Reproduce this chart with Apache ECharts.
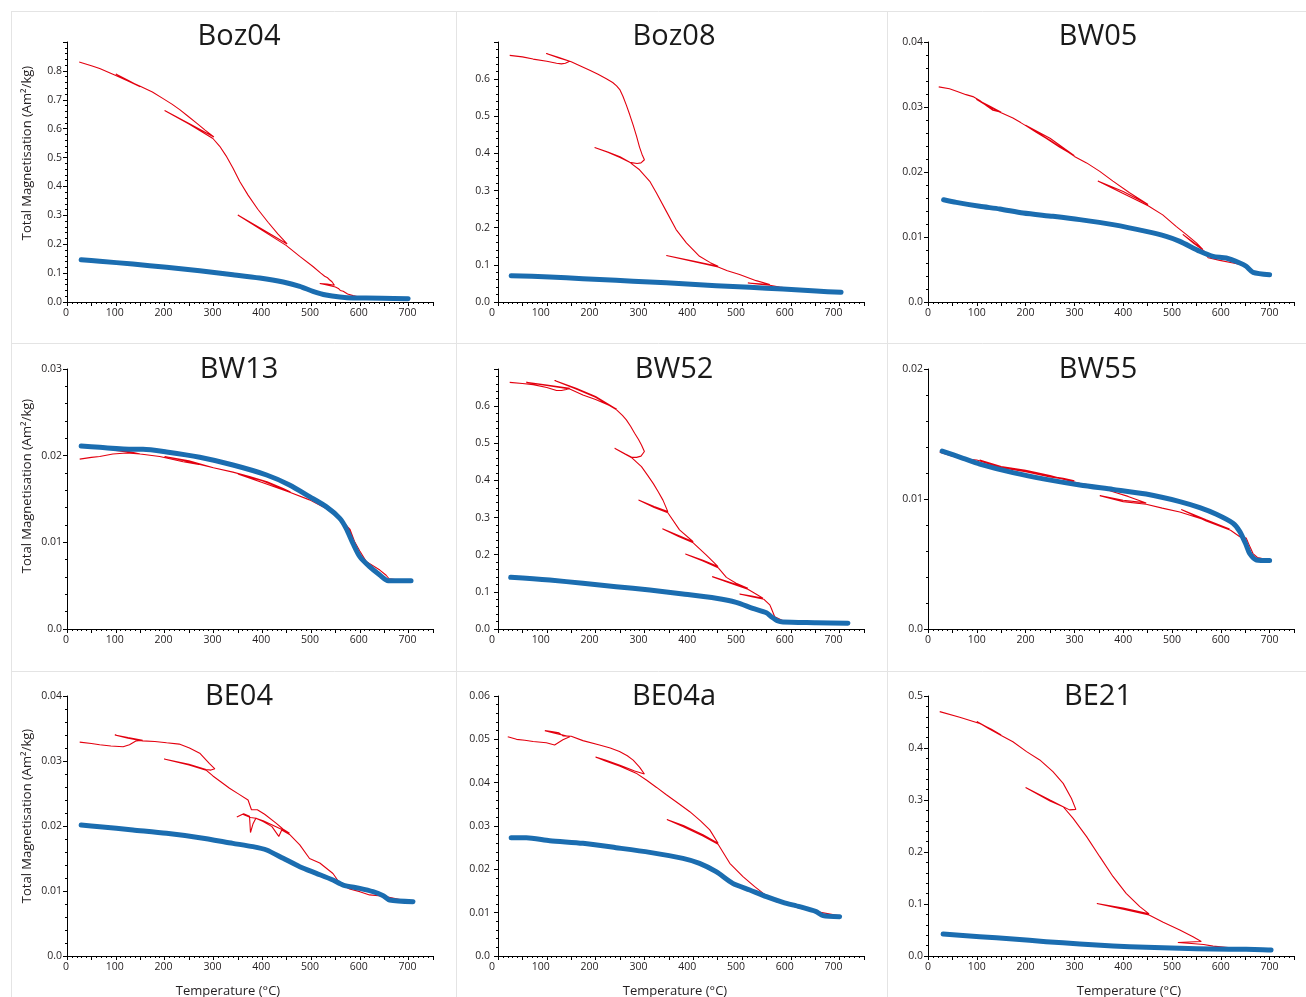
<!DOCTYPE html>
<html><head><meta charset="utf-8">
<script src="https://cdn.jsdelivr.net/npm/echarts@6/dist/echarts.min.js"></script>
<style>html,body{margin:0;padding:0;background:#fff}#c{width:1306px;height:997px}</style>
</head><body><div id="c"></div>
<script>
// ---------------- DATA ----------------
const panelNames = ['Boz04','Boz08','BW05','BW13','BW52','BW55','BE04','BE04a','BE21'];
const yAxisMax = [0.9, 0.7, 0.04, 0.03, 0.7, 0.02, 0.04, 0.06, 0.5];
const yAxisStep = [0.1, 0.1, 0.01, 0.01, 0.1, 0.01, 0.01, 0.01, 0.1];
const yLabelTop = [0.8, 0.6, 0.04, 0.03, 0.6, 0.02, 0.04, 0.06, 0.5];
const xTickLabels = [0,100,200,300,400,500,600,700];

// heating runs (red, with partial thermal cycles) : [T (°C), M (Am²/kg)]
const boz04Heat = [[25,0.831],[50,0.818],[67,0.808],[100,0.784],[125,0.765],[150,0.745],
 [125,0.768],[100,0.789],[125,0.766],[150,0.747],
 [175,0.727],[197,0.704],[215,0.685],[231,0.666],[248,0.643],[265,0.620],[283,0.595],[301,0.571],
 [250,0.618],[200,0.663],[250,0.616],[299,0.566],
 [313,0.539],[326,0.506],[340,0.464],[354,0.417],[371,0.370],[391,0.321],[412,0.276],[432,0.236],[451,0.201],
 [400,0.252],[350,0.301],[400,0.248],[449,0.196],
 [477,0.158],[504,0.123],[520,0.100],[528,0.089],[533,0.085],[538,0.077],[543,0.070],[548,0.058],
 [533,0.062],[518,0.064],[535,0.058],[550,0.052],
 [556,0.047],[560,0.040],[566,0.037],[575,0.028],[586,0.022],[600,0.016],[650,0.013],[700,0.011]];
const boz04Cool = [[29,0.1465],[67,0.141],[135,0.1315],[204,0.120],[272,0.108],[340,0.0946],[395,0.083],
 [443,0.069],[477,0.054],[504,0.037],[531,0.024],[559,0.017],[586,0.014],[613,0.014],[699,0.0115]];

const boz08Heat = [[24,0.664],[50,0.660],[72,0.654],[100,0.648],[120,0.643],[130,0.641],[138,0.643],[147,0.648],
 [125,0.657],[99,0.669],[125,0.658],[150,0.647],
 [170,0.635],[188,0.624],[205,0.613],[222,0.601],[235,0.591],[243,0.582],[250,0.571],[256,0.554],[263,0.530],
 [270,0.504],[277,0.476],[284,0.446],[290,0.417],[295,0.398],[300,0.383],
 [293,0.3745],[285,0.373],[270,0.376],[250,0.391],[225,0.404],[198,0.416],[225,0.403],[250,0.389],[270,0.376],
 [290,0.356],[311,0.325],[325,0.293],[345,0.244],[365,0.195],[386,0.159],[413,0.123],[435,0.106],[451,0.096],
 [400,0.110],[345,0.125],[400,0.109],[451,0.094],
 [470,0.084],[495,0.074],[529,0.0575],[557,0.047],
 [535,0.049],[512,0.051],[535,0.048],[557,0.045],
 [577,0.040],[600,0.036],[650,0.030],[700,0.026]];
const boz08Cool = [[27,0.0709],[106,0.0673],[174,0.0628],[242,0.0583],[311,0.0539],[379,0.0494],[447,0.044],
 [516,0.0395],[584,0.035],[652,0.0296],[703,0.026]];

const bw05Heat = [[22,0.0331],[44,0.0328],[60,0.0324],[78,0.0319],[92,0.0316],[106,0.0310],[120,0.0302],[133,0.0295],[150,0.0292],
 [125,0.0302],[99,0.0312],[125,0.0300],[150,0.0291],
 [174,0.0283],[190,0.0276],[201,0.0271],[220,0.0262],[242,0.0252],[270,0.0238],[300,0.0225],
 [250,0.0252],[200,0.0272],[250,0.0249],[300,0.0224],
 [325,0.0214],[352,0.0201],[379,0.0186],[413,0.0168],[451,0.0150],
 [400,0.0170],[348,0.0186],[400,0.0167],[451,0.0148],
 [481,0.0134],[509,0.0116],[529,0.0104],[550,0.0091],[563,0.0081],
 [540,0.0094],[522,0.0104],[545,0.0090],[565,0.0079],
 [574,0.0068],[598,0.0064],[625,0.0060],[645,0.0057],[666,0.0047],[700,0.0042]];
const bw05Cool = [[32,0.01574],[58,0.01533],[106,0.01472],[147,0.01431],[195,0.01369],[256,0.01318],[311,0.01267],
 [379,0.0119],[447,0.01087],[488,0.0101],[516,0.00933],[557,0.0078],[584,0.00703],[611,0.00677],[639,0.0060],
 [652,0.00549],[666,0.00456],[700,0.0042]];

const bw13Heat = [[26,0.0196],[50,0.0198],[67,0.0199],[94,0.0202],[122,0.0203],[150,0.0202],
 [125,0.0205],[100,0.0206],[125,0.0204],[150,0.0202],
 [190,0.0199],[238,0.0193],[270,0.0190],[300,0.0186],
 [250,0.0194],[200,0.0199],[250,0.0193],[300,0.0186],
 [340,0.0181],[374,0.0176],[410,0.0170],[443,0.0162],[458,0.0158],
 [400,0.0171],[350,0.0179],[400,0.0169],[455,0.0158],
 [497,0.0149],[531,0.0139],[559,0.0128],[570,0.0120],[579,0.0114],[586,0.0104],
 [575,0.0118],[555,0.0130],[580,0.0115],[590,0.0100],
 [600,0.0090],[613,0.0078],[641,0.0068],[654,0.0062],[660,0.0058],[700,0.0055]];
const bw13Cool = [[29,0.02112],[67,0.02096],[135,0.02073],[156,0.02073],[204,0.02042],[272,0.01981],[340,0.01892],
 [409,0.01777],[456,0.01662],[497,0.01527],[531,0.01412],[559,0.01277],[572,0.01162],[586,0.00988],[600,0.00835],
 [620,0.00719],[641,0.00623],[658,0.00558],[682,0.00558],[705,0.00558]];

const bw52Heat = [[24,0.664],[50,0.661],[72,0.658],[100,0.650],[120,0.642],[130,0.642],[140,0.645],[147,0.648],
 [100,0.657],[58,0.664],[100,0.656],[147,0.646],
 [174,0.630],[200,0.618],[225,0.604],[243,0.592],
 [200,0.626],[160,0.648],[116,0.669],[160,0.646],[200,0.624],[243,0.590],
 [255,0.575],[263,0.563],[272,0.545],[280,0.527],[288,0.510],[294,0.4955],[300,0.478],
 [293,0.4655],[284,0.462],[275,0.462],[260,0.472],[239,0.4865],[260,0.471],[275,0.460],
 [285,0.448],[294,0.437],[306,0.415],[318,0.392],[328,0.370],[338,0.347],[348,0.316],
 [320,0.330],[288,0.347],[320,0.327],[348,0.313],
 [372,0.267],[400,0.235],
 [370,0.252],[337,0.270],[370,0.249],[400,0.232],
 [427,0.199],[451,0.168],
 [420,0.185],[384,0.202],[420,0.183],[451,0.165],
 [468,0.139],[488,0.123],[512,0.1095],
 [475,0.126],[439,0.141],[475,0.124],[512,0.107],
 [526,0.096],[543,0.083],
 [520,0.089],[495,0.094],[520,0.087],[545,0.080],
 [557,0.065],[560,0.056],[567,0.033],[584,0.022],[650,0.017],[715,0.015]];
const bw52Cool = [[26,0.1391],[72,0.1355],[106,0.132],[174,0.123],[242,0.114],[311,0.105],[379,0.0943],[447,0.0826],
 [488,0.0718],[522,0.0557],[550,0.044],[560,0.0332],[574,0.0215],[584,0.0189],[652,0.0171],[717,0.0153]];

const bw55Heat = [[24,0.0136],[50,0.0133],[72,0.0131],[100,0.0130],[140,0.0125],[175,0.0123],[208,0.0121],[240,0.0118],[277,0.0116],[300,0.0114],
 [250,0.0117],[200,0.0121],[150,0.0124],[106,0.0130],[150,0.0125],[200,0.0122],[250,0.0118],[300,0.0113],
 [311,0.0112],[345,0.0110],[379,0.01056],[410,0.0102],[447,0.0097],
 [400,0.0099],[352,0.01026],[400,0.0098],[447,0.0096],
 [480,0.0093],[516,0.0090],[550,0.0086],[584,0.0082],[618,0.0077],
 [570,0.0084],[519,0.0092],[570,0.0083],[620,0.0076],
 [639,0.0071],[652,0.0070],[660,0.0063],[666,0.0058],[675,0.0055],[700,0.0053]];
const bw55Cool = [[29,0.01369],[72,0.01313],[106,0.01269],[174,0.01203],[242,0.01151],[311,0.01108],[379,0.01074],
 [447,0.01038],[516,0.0098],[557,0.00933],[591,0.00882],[625,0.00813],[639,0.00749],[652,0.00646],[659,0.00582],
 [673,0.00531],[700,0.00526]];

const be04Heat = [[26,0.0329],[50,0.0327],[67,0.0325],[90,0.0323],[115,0.0322],[128,0.0325],[142,0.0331],[155,0.0332],
 [125,0.0336],[98,0.0340],[125,0.0335],[155,0.0331],
 [180,0.0330],[204,0.0328],[230,0.0326],[251,0.0320],[272,0.0312],[292,0.0296],[303,0.0288],
 [295,0.0286],[285,0.0287],[250,0.0295],[199,0.0303],[250,0.0294],[285,0.0286],
 [299,0.0277],[315,0.0268],[333,0.0258],[352,0.0249],[371,0.0240],[378,0.0225],[390,0.0225],[405,0.0218],
 [429,0.0204],[443,0.0195],[456,0.0189],
 [436,0.0196],[402,0.0208],[387,0.0212],[376,0.0213],[360,0.0218],[348,0.0214],
 [362,0.0219],[374,0.0215],[376,0.0190],[381,0.0203],[387,0.0212],[402,0.0207],[420,0.0199],[434,0.0184],[440,0.0194],[456,0.0187],
 [477,0.0171],[497,0.0150],[518,0.0143],[545,0.0127],[559,0.0112],[579,0.0103],[600,0.0099],[620,0.0094],[650,0.0092],[700,0.0084]];
const be04Cool = [[29,0.02015],[67,0.0199],[135,0.01938],[204,0.01887],[272,0.0182],[340,0.01733],[381,0.01682],
 [409,0.01631],[443,0.01503],[477,0.01374],[511,0.01272],[545,0.01169],[566,0.01092],[600,0.01041],[627,0.0099],
 [648,0.00928],[661,0.00862],[709,0.00836]];

const be04aHeat = [[20,0.0506],[38,0.0500],[55,0.0498],[72,0.0495],[99,0.0492],[116,0.0487],[133,0.0499],[147,0.0506],
 [125,0.0512],[110,0.0516],[96,0.0520],[110,0.0518],[125,0.0515],[133,0.0508],[150,0.0507],
 [174,0.0497],[208,0.0487],[230,0.0480],[249,0.0472],[265,0.0462],[277,0.0452],[290,0.0436],[300,0.0420],
 [280,0.0427],[250,0.0440],[220,0.0452],[200,0.0459],[220,0.0450],[250,0.0438],[283,0.0422],
 [304,0.0406],[325,0.0389],[345,0.0372],[370,0.0352],[393,0.0333],[415,0.0312],[434,0.0291],[451,0.0260],
 [420,0.0280],[380,0.0301],[346,0.0315],[380,0.0298],[420,0.0277],[451,0.0258],
 [475,0.0214],[502,0.0183],[526,0.0160],[543,0.0145],[570,0.0125],[584,0.0122],[618,0.0110],[650,0.0103],[700,0.0093]];
const be04aCool = [[27,0.02731],[58,0.02731],[106,0.02662],[174,0.0260],[242,0.0250],[311,0.02392],[379,0.02254],
 [413,0.02138],[447,0.01946],[481,0.01677],[516,0.01523],[550,0.01369],[584,0.01238],[618,0.01138],[652,0.01023],
 [666,0.00931],[700,0.00908]];

const be21Heat = [[24,0.470],[65,0.459],[106,0.447],[130,0.436],[150,0.425],
 [125,0.438],[100,0.451],[125,0.437],[150,0.424],
 [174,0.412],[202,0.393],[229,0.377],[256,0.3545],[277,0.332],[294,0.303],[303,0.282],
 [290,0.281],[250,0.300],[200,0.324],[250,0.298],[277,0.287],
 [297,0.265],[325,0.2295],[352,0.191],[379,0.153],[406,0.1205],[434,0.095],[453,0.081],
 [400,0.092],[346,0.101],[400,0.090],[453,0.079],
 [482,0.065],[516,0.050],[543,0.037],[560,0.028],
 [535,0.027],[512,0.026],[540,0.024],[565,0.022],
 [584,0.019],[620,0.016],[690,0.0125],[702,0.012]];
const be21Cool = [[31,0.0423],[106,0.0372],[174,0.0327],[242,0.0276],[311,0.0231],[379,0.0192],[447,0.0167],
 [516,0.0147],[584,0.0135],[652,0.0128],[686,0.0122],[703,0.0115]];

const heatRuns = [boz04Heat, boz08Heat, bw05Heat, bw13Heat, bw52Heat, bw55Heat, be04Heat, be04aHeat, be21Heat];
const coolRuns = [boz04Cool, boz08Cool, bw05Cool, bw13Cool, bw52Cool, bw55Cool, be04Cool, be04aCool, be21Cool];

// ---------------- LAYOUT / STYLE ----------------
const FONT = '"Open Sans", "Noto Sans", sans-serif';
const colLeft = [67, 498, 928], rowTop = [42, 369, 696], PW = 366, PH = 260;
const titleX = [239, 674, 1098], titleY = [37, 370, 697];
const xLabelShift = [2, 12, 0], yLabelMargin = [5, 8, 5];
const RED = '#e3000f', BLUE = '#1b6db0', INK = '#231f20', SEP = '#e4e4e4';

const grids = [], xAxes = [], yAxes = [], series = [], graphics = [];
const fmtY = (v, i) => {
  if (v > yLabelTop[i] + 1e-9) return '';
  if (Math.abs(v) < 1e-12) return '0.0';
  return String(Number(v.toFixed(4)));
};
panelNames.forEach((name, i) => {
  const r = Math.floor(i / 3), c = i % 3;
  grids.push({left: colLeft[c], top: rowTop[r], width: PW, height: PH, containLabel: false});
  xAxes.push({
    gridIndex: i, type: 'value', min: 0, max: 750, interval: 50,
    axisLine: {show: true, onZero: false, lineStyle: {color: '#000', width: 1}},
    axisTick: {show: true, length: 4, lineStyle: {color: '#000', width: 1}},
    minorTick: {show: true, splitNumber: 5, length: 2, lineStyle: {color: '#000', width: 1}},
    splitLine: {show: false}, minorSplitLine: {show: false},
    axisLabel: {
      formatter: v => xTickLabels.includes(v) ? String(v) : '',
      fontSize: 10.5, color: INK, fontFamily: FONT, margin: 6,
      padding: [0, xLabelShift[c], 0, 0]
    }
  });
  yAxes.push({
    gridIndex: i, type: 'value', min: 0, max: yAxisMax[i], interval: yAxisStep[i],
    axisLine: {show: true, onZero: false, lineStyle: {color: '#000', width: 1}},
    axisTick: {show: true, length: 4, lineStyle: {color: '#000', width: 1}},
    minorTick: {show: true, splitNumber: 5, length: 2, lineStyle: {color: '#000', width: 1}},
    splitLine: {show: false}, minorSplitLine: {show: false},
    axisLabel: {formatter: v => fmtY(v, i), fontSize: 10.5, color: INK, fontFamily: FONT, margin: yLabelMargin[c]}
  });
  series.push({
    name: name + ' heating', type: 'line', xAxisIndex: i, yAxisIndex: i, data: heatRuns[i],
    symbol: 'none', showSymbol: false, smooth: false, z: 2,
    lineStyle: {color: RED, width: 1.1}, emphasis: {disabled: true}
  });
  series.push({
    name: name + ' cooling', type: 'line', xAxisIndex: i, yAxisIndex: i, data: coolRuns[i],
    symbol: 'none', showSymbol: false, smooth: 0.25, z: 3,
    lineStyle: {color: BLUE, width: 5, cap: 'round', join: 'round'}, emphasis: {disabled: true}
  });
  graphics.push({
    type: 'text', x: titleX[c], y: titleY[r], z: 10,
    style: {text: name, fontSize: 29, fontFamily: FONT, fill: '#1a1a1a', align: 'center', verticalAlign: 'middle'}
  });
});

// separators between panels
const hLines = [11.5, 343.5, 671.5], vLines = [11.5, 456.5, 887.5];
hLines.forEach(y => graphics.push({type: 'line', z: -10, shape: {x1: 11, y1: y, x2: 1306, y2: y}, style: {stroke: SEP, lineWidth: 1}}));
vLines.forEach(x => graphics.push({type: 'line', z: -10, shape: {x1: x, y1: 11, x2: x, y2: 997}, style: {stroke: SEP, lineWidth: 1}}));

// axis titles
const yTitleY = [153, 486, 816];
yTitleY.forEach(y => graphics.push({
  type: 'text', x: 27, y: y, rotation: Math.PI / 2, z: 10,
  style: {text: 'Total Magnetisation (Am²/kg)', fontSize: 13, fontFamily: FONT, fill: INK, align: 'center', verticalAlign: 'middle'}
}));
const xTitleX = [228, 675, 1129];
xTitleX.forEach(x => graphics.push({
  type: 'text', x: x, y: 991, z: 10,
  style: {text: 'Temperature (°C)', fontSize: 13, fontFamily: FONT, fill: INK, align: 'center', verticalAlign: 'middle'}
}));

const chart = echarts.init(document.getElementById('c'), null, {renderer: 'canvas'});
chart.setOption({
  backgroundColor: '#ffffff',
  animation: false,
  grid: grids, xAxis: xAxes, yAxis: yAxes, series: series,
  graphic: {elements: graphics}
});
</script>
</body></html>
